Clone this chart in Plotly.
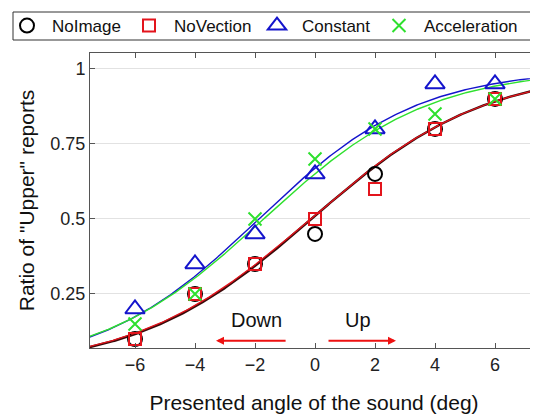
import numpy as np
import plotly.graph_objects as go

# ---- data ----
angles = [-6, -4, -2, 0, 2, 4, 6]
series_names = ["NoImage", "NoVection", "Constant", "Acceleration"]
noimage = [0.10, 0.25, 0.35, 0.45, 0.65, 0.80, 0.90]
novection = [0.10, 0.25, 0.35, 0.50, 0.60, 0.80, 0.90]
constant = [0.20, 0.35, 0.45, 0.65, 0.80, 0.95, 0.95]
acceleration = [0.15, 0.25, 0.50, 0.70, 0.80, 0.85, 0.90]

# fitted logistic psychometric parameters (PSE, slope scale)
fit_mu = [-0.12, -0.16, -1.87, -1.71]
fit_scale = [2.90, 2.92, 2.65, 2.75]

y_ticks = [0.25, 0.5, 0.75, 1]
y_tick_text = ["0.25", "0.5", "0.75", "1"]
x_ticks = [-6, -4, -2, 0, 2, 4, 6]

colors = ["#000000", "#e3141c", "#1414cc", "#2ee02e"]
symbols = ["circle-open", "square-open", "triangle-up-open", "x-thin-open"]
sizes = [14, 12, 17, 13]
values = [noimage, novection, constant, acceleration]
legend_ids = ["legend", "legend2", "legend3", "legend4"]

FONT = "Liberation Sans, Arial, sans-serif"

# page body has an 8px default margin: figure is sized so the visible window matches
W, H = 530, 406
ML, MR, MT, MB = 82, 0, 45, 66

fig = go.Figure()

xs = np.linspace(-7.6, 7.6, 300)
line_widths = [2.4, 1.3, 1.4, 1.4]
for i in range(4):
    ys = 1.0 / (1.0 + np.exp(-(xs - fit_mu[i]) / fit_scale[i]))
    fig.add_trace(go.Scatter(x=xs, y=ys, mode="lines",
                             line=dict(color=colors[i] if i != 0 else "#3a0a0a", width=line_widths[i]),
                             showlegend=False, hoverinfo="skip"))

for i in range(4):
    fig.add_trace(go.Scatter(x=angles, y=values[i], mode="markers", name=series_names[i],
                             legend=legend_ids[i],
                             marker=dict(symbol=symbols[i], size=sizes[i], color=colors[i],
                                         line=dict(color=colors[i], width=2))))

# direction arrows and labels
fig.add_annotation(x=-3.3, y=0.094, ax=-0.93, ay=0.094, xref="x", yref="y", axref="x", ayref="y",
                   text="", showarrow=True, arrowhead=2, arrowsize=0.8, arrowwidth=2, arrowcolor="#ee1111")
fig.add_annotation(x=2.7, y=0.094, ax=0.4, ay=0.094, xref="x", yref="y", axref="x", ayref="y",
                   text="", showarrow=True, arrowhead=2, arrowsize=0.8, arrowwidth=2, arrowcolor="#ee1111")
fig.add_annotation(x=-1.95, y=0.163, text="Down", showarrow=False, font=dict(family=FONT, size=20, color="#111"))
fig.add_annotation(x=1.43, y=0.163, text="Up", showarrow=False, font=dict(family=FONT, size=20, color="#111"))

axis_common = dict(showline=True, linecolor="#555555", linewidth=1, mirror="ticks",
                   ticks="inside", ticklen=5, tickcolor="#555555", zeroline=False,
                   tickfont=dict(family=FONT, size=18, color="#222"))

fig.update_xaxes(range=[-7.5, 7.433], tickvals=x_ticks, showgrid=False,
                 title=dict(text="Presented angle of the sound (deg)", font=dict(family=FONT, size=21, color="#111"), standoff=31),
                 **axis_common)
fig.update_yaxes(range=[0.07, 1.053], tickvals=y_ticks, ticktext=y_tick_text, showgrid=True,
                 gridcolor="#e2e2e2", gridwidth=1,
                 title=dict(text='Ratio of "Upper" reports', font=dict(family=FONT, size=21, color="#111"), standoff=10),
                 **axis_common)

# legend frame (screen 13..535 x 12..40 -> figure coords minus 8)
pw, ph = W - ML - MR, H - MT - MB
def px_x(fx):
    return (fx - ML) / pw
def px_y(fy):
    return (H - MB - fy) / ph
fig.add_shape(type="rect", xref="paper", yref="paper",
              x0=px_x(5), x1=px_x(527), y0=px_y(32), y1=px_y(4),
              line=dict(color="#333333", width=1), fillcolor="white", layer="above")

legend_text_x = [53, 175, 303, 425]  # screen x where each legend label starts
legend_common = dict(orientation="h", xref="paper", yref="paper", xanchor="left",
                     yanchor="middle", y=px_y(18), bgcolor="rgba(0,0,0,0)", borderwidth=0,
                     itemwidth=40, font=dict(family=FONT, size=17, color="#111"))
legends = {}
for i, lid in enumerate(legend_ids):
    legends[lid] = dict(x=px_x(legend_text_x[i] - 8 - 51), **legend_common)

fig.update_layout(
    width=W, height=H,
    margin=dict(l=ML, r=MR, t=MT, b=MB, autoexpand=False),
    plot_bgcolor="white", paper_bgcolor="white",
    font=dict(family=FONT),
    **legends,
)

fig.write_html("out.html")
